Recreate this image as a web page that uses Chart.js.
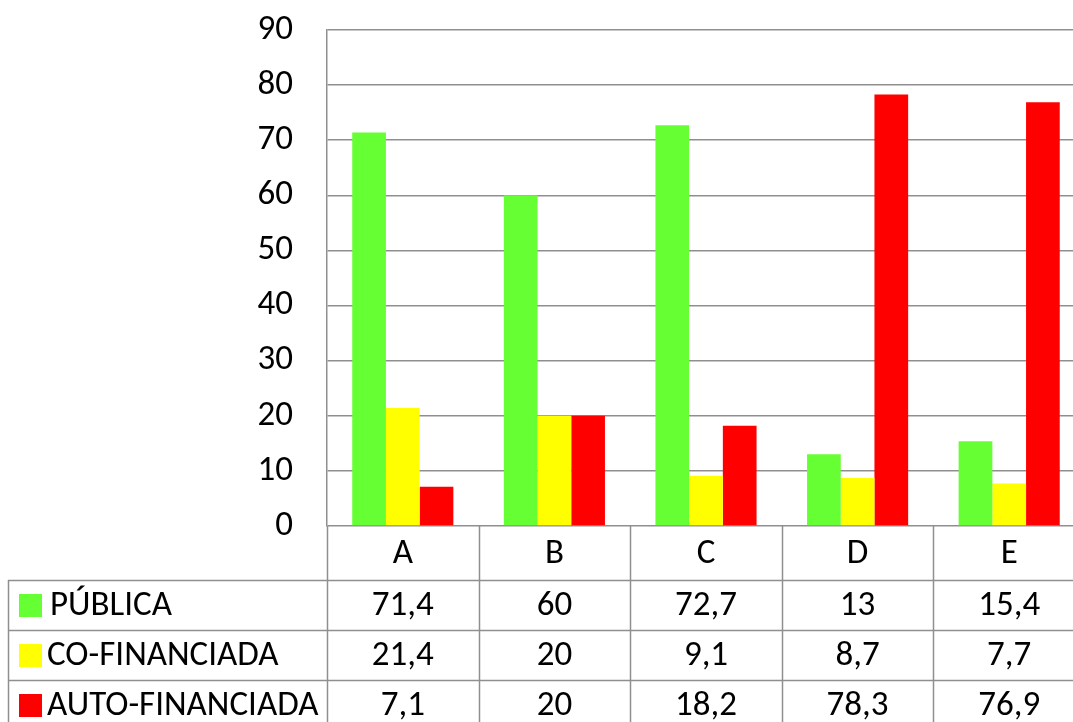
<!DOCTYPE html>
<html>
<head>
<meta charset="utf-8">
<script src="https://cdn.jsdelivr.net/npm/chart.js@4/dist/chart.umd.min.js"></script>
<style>
html,body{margin:0;padding:0;background:#fff;overflow:hidden;}
#wrap{width:1085px;height:722px;}
</style>
</head>
<body>
<div id="wrap"><canvas id="c" width="1085" height="722"></canvas></div>
<script>
const categories = ['A','B','C','D','E'];
const seriesNames = ['PÚBLICA','CO-FINANCIADA','AUTO-FINANCIADA'];
const publica = [71.4, 60, 72.7, 13, 15.4];
const cofinanciada = [21.4, 20, 9.1, 8.7, 7.7];
const autofinanciada = [7.1, 20, 18.2, 78.3, 76.9];
const tableText = [
  ['71,4','60','72,7','13','15,4'],
  ['21,4','20','9,1','8,7','7,7'],
  ['7,1','20','18,2','78,3','76,9']
];
const yTicks = [0,10,20,30,40,50,60,70,80,90];
const colors = ['#66FF33','#FFFF00','#FF0000'];

const FONT = 'Carlito, Lato, "Open Sans", sans-serif';
const GRID = '#8f8f8f';

const tablePlugin = {
  id:'dataTable',
  afterDraw(chart){
    const ctx = chart.ctx;
    const area = chart.chartArea;
    const xs = chart.scales.x;
    const n = categories.length;
    const step = (area.right - area.left)/n;
    const top = area.bottom;
    const rowH = [54, 50, 50, 50];
    const ys = [top];
    rowH.forEach(h=>ys.push(ys[ys.length-1]+h));
    const leftEdge = 8;
    ctx.save();
    ctx.strokeStyle = GRID;
    ctx.lineWidth = 1.5;
    ctx.beginPath();
    for(let r=1;r<ys.length;r++){
      const y = Math.round(ys[r])+0.5;
      ctx.moveTo(leftEdge, y); ctx.lineTo(area.right, y);
    }
    for(let i=0;i<=n;i++){
      const x = Math.round(area.left + i*step)+0.5;
      ctx.moveTo(x, top); ctx.lineTo(x, ys[ys.length-1]);
    }
    ctx.moveTo(leftEdge+0.5, ys[1]); ctx.lineTo(leftEdge+0.5, ys[ys.length-1]);
    ctx.stroke();
    ctx.fillStyle = '#000';
    ctx.textAlign = 'center';
    ctx.textBaseline = 'middle';
    ctx.font = '35px ' + FONT;
    categories.forEach((c,i)=>{
      ctx.fillText(c, xs.getPixelForValue(i), (ys[0]+ys[1])/2 + 1);
    });
    for(let r=0;r<3;r++){
      const yc = (ys[r+1]+ys[r+2])/2 + 1;
      tableText[r].forEach((t,i)=>{
        ctx.textAlign='center';
        ctx.fillText(t, xs.getPixelForValue(i), yc);
      });
      ctx.fillStyle = colors[r];
      ctx.fillRect(19, yc-12, 23, 23);
      ctx.fillStyle = '#000';
      ctx.textAlign='left';
      ctx.fillText(seriesNames[r], r===0?50:47, yc);
    }
    ctx.restore();
  }
};

new Chart(document.getElementById('c'), {
  type:'bar',
  data:{
    labels: categories,
    datasets:[
      {label:seriesNames[0], data:publica, backgroundColor:colors[0]},
      {label:seriesNames[1], data:cofinanciada, backgroundColor:colors[1]},
      {label:seriesNames[2], data:autofinanciada, backgroundColor:colors[2]}
    ]
  },
  options:{
    responsive:false,
    animation:false,
    layout:{padding:{top:30,bottom:196,left:0,right:0}},
    datasets:{bar:{categoryPercentage:0.667,barPercentage:1.0,borderWidth:0}},
    plugins:{legend:{display:false},tooltip:{enabled:false}},
    scales:{
      x:{
        grid:{display:false, drawTicks:false},
        border:{display:false},
        ticks:{display:false},
        afterFit(s){ s.height = 0; }
      },
      y:{
        min:0,max:90,
        afterBuildTicks(s){ s.ticks = yTicks.map(v=>({value:v})); },
        grid:{color:GRID, lineWidth:1.5, drawTicks:true, tickLength:34, tickColor:'rgba(0,0,0,0)'},
        border:{display:true, color:GRID, width:1.5},
        ticks:{color:'#000', font:{family:FONT, size:35}, padding:0},
        afterFit(s){ s.width = 327; }
      }
    }
  },
  plugins:[tablePlugin]
});
</script>
</body>
</html>
